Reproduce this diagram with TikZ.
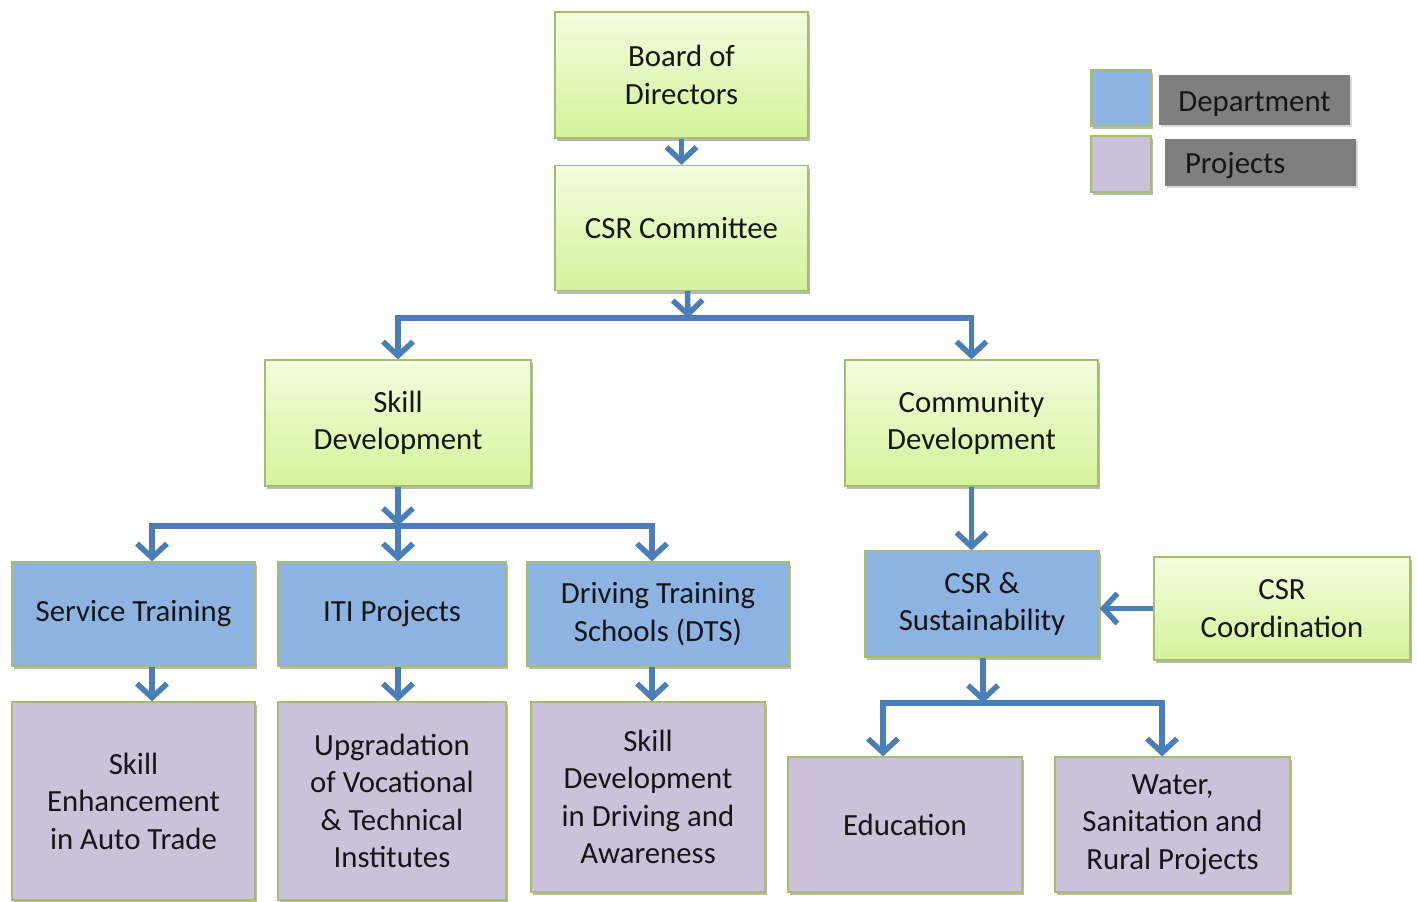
\documentclass[tikz,border=0pt]{standalone}
\usepackage{fontspec}
\setmainfont{Carlito}
\usetikzlibrary{arrows.meta,shadows}
\definecolor{gT}{HTML}{F4FCDE}
\definecolor{gB}{HTML}{D3F39A}
\definecolor{bord}{HTML}{A3BF6A}
\definecolor{dept}{HTML}{8DB3E2}
\definecolor{proj}{HTML}{CCC1DA}
\definecolor{arrc}{HTML}{4A7EBB}
\definecolor{legg}{HTML}{7F7F7F}
\definecolor{txt}{HTML}{161616}
\begin{document}
\begin{tikzpicture}[x=1pt,y=-1pt,
  base/.style={draw=bord, line width=1.2pt, align=center, text=txt,
    font=\fontsize{30.8}{37.5}\selectfont, inner sep=0pt,
    drop shadow={shadow xshift=2pt,shadow yshift=-3pt,opacity=0.4,fill=black!70}},
  gbox/.style={base, top color=gT, bottom color=gB},
  dbox/.style={base, fill=dept},
  pbox/.style={base, fill=proj},
  lbar/.style={fill=legg, inner sep=0pt,
    drop shadow={shadow xshift=1.5pt,shadow yshift=-2pt,opacity=0.3,fill=black!50}},
  ltxt/.style={text=txt, font=\fontsize{30.8}{37.5}\selectfont, inner sep=0pt},
  arr/.style={draw=arrc, line width=5.5pt, line join=miter,
    -{Straight Barb[length=14pt,width=30pt]}},
  sz/.style 2 args={minimum width=#1pt, minimum height=#2pt}
]
\useasboundingbox (0,0) rectangle (1417,902);
\fill[white] (0,0) rectangle (1417,902);
\clip (0,0) rectangle (1417,902);

% top
\node[gbox, sz={253}{126}] (board) at (681.5,75) {Board of\\Directors};
\node[gbox, sz={253}{125}] (csr) at (681.5,228) {CSR Committee};
\node[gbox, sz={266}{126}] (skill) at (398,423) {Skill\\Development};
\node[gbox, sz={253}{126}] (comm) at (971.5,423) {Community\\Development};

% departments
\node[dbox, sz={243}{104}] (svc) at (133.5,614) {Service Training};
\node[dbox, sz={228}{104}] (iti) at (392,614) {ITI Projects};
\node[dbox, sz={262}{104}] (dts) at (658,614) {Driving Training\\Schools (DTS)};
\node[dbox, sz={234}{106}] (csrs) at (982,604) {CSR \&\\Sustainability};
\node[gbox, sz={256}{103}] (coord) at (1282,608.5) {CSR\\Coordination};

% projects
\node[pbox, sz={243}{198}] (ske) at (133.5,801) {Skill\\Enhancement\\in Auto Trade};
\node[pbox, sz={228}{198}] (upg) at (392,801) {Upgradation\\of Vocational\\\& Technical\\Institutes};
\node[pbox, sz={234}{190}] (drv) at (648,797) {Skill\\Development\\in Driving and\\Awareness};
\node[pbox, sz={234}{135}] (edu) at (905,824.5) {Education};
\node[pbox, sz={235}{135}] (wat) at (1172.5,824.5) {Water,\\Sanitation and\\Rural Projects};

% legend
\node[base, fill=dept, sz={60}{56}] (ld) at (1121,98) {};
\node[base, fill=proj, sz={60}{56}] (lp) at (1121,164) {};
\node[lbar, sz={191}{50}] (ldt) at (1254.5,100) {};
\node[lbar, sz={191}{47}] (lpt) at (1260.5,162.5) {};
\node[ltxt] (ldtx) at ([yshift=-4pt]ldt.center) {Department};
\node[ltxt, anchor=west] (lptx) at ([xshift=20pt,yshift=-3pt]lpt.west) {Projects};

% junction coordinates
\coordinate (j1) at (688,318);
\coordinate (j2) at (398,526);
\coordinate (j3) at (983,703);

% connectors
\draw[arr] (board.south) -- (csr.north);
\draw[arr] ([xshift=6pt]csr.south) -- (j1);
\draw[arr] (j1) -| (skill.north);
\draw[arr] (j1) -| (comm.north);

\draw[arr] (skill.south) -- (j2);
\draw[arr] (j2) -| ([xshift=18.5pt]svc.north);
\draw[arr] (j2) -- (j2 |- iti.north);
\draw[arr] (j2) -| ([xshift=-6pt]dts.north);

\draw[arr] ([xshift=18.5pt]svc.south) -- ([xshift=18.5pt]svc.south |- ske.north);
\draw[arr] ([xshift=6pt]iti.south) -- ([xshift=6pt]iti.south |- upg.north);
\draw[arr] ([xshift=-6pt]dts.south) -- ([xshift=-6pt]dts.south |- drv.north);

\draw[arr] (comm.south) -- (comm.south |- csrs.north);
\draw[arr] (coord.west) -- (coord.west -| csrs.east);
\draw[arr] ([xshift=1pt]csrs.south) -- (j3);
\draw[arr] (j3) -| ([xshift=-22pt]edu.north);
\draw[arr] (j3) -| ([xshift=-10.5pt]wat.north);
\end{tikzpicture}
\end{document}
